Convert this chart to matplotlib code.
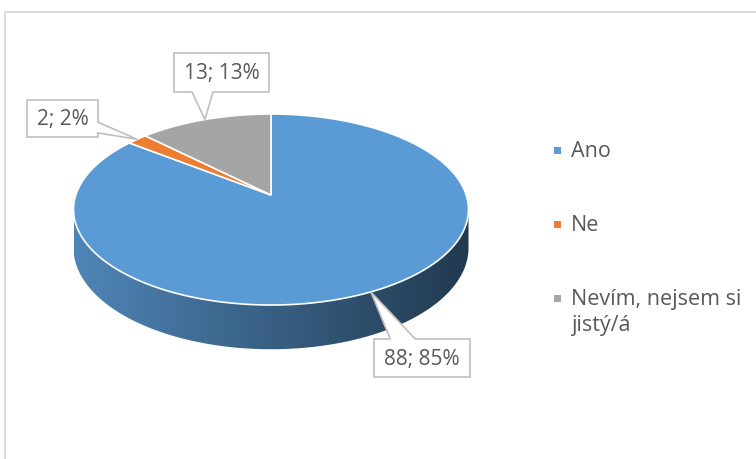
import textwrap
import numpy as np
import matplotlib
matplotlib.use("Agg")
import matplotlib.pyplot as plt
from matplotlib.patches import Polygon, Rectangle

plt.rcParams['font.family'] = ['Open Sans', 'DejaVu Sans']

# data
categories = ['Ano', 'Ne', 'Nevím, nejsem si jistý/á']
values = [88, 2, 13]
colors = ['#5b9bd5', '#ed7d31', '#a5a5a5']

# layout of the 3d pie (pixels)
cx, cy = 271, 195          # projected centre of the top face
A, B = 195.2, 93.3         # half axes before perspective
k = 0.152                  # perspective strength
D = 37.5                   # thickness
text_col = '#595959'

# label boxes (x0, y0, x1, y1), side that the pointer leaves from, pointer base
boxes = [(374, 339, 470, 377), (27, 100, 98, 137), (174, 53, 269, 92)]
box_side = ['top', 'right', 'bottom']
box_base = [(0.17, 0.43), (0.60, 0.89), (0.19, 0.41)]

fig = plt.figure(figsize=(7.56, 4.59), dpi=100)
ax = fig.add_axes([0, 0, 1, 1])
ax.set_xlim(0, 756)
ax.set_ylim(459, 0)
ax.axis('off')


def proj(theta, depth=0.0):
    # theta clockwise from 12 o'clock on the flat disc
    u = np.sin(theta)
    v = -np.cos(theta)
    w = 1 - k * v
    return cx + A * u / w, cy + B * v / w + depth / w


vals = np.array(values, dtype=float)
fr = vals / vals.sum()
edges = np.concatenate([[0], np.cumsum(fr)]) * 2 * np.pi

# side walls (front part only), with a left->right dark gradient
lo = np.arccos(-k)
hi = 2 * np.pi - lo
xleft = cx - A / np.sqrt(1 - k * k)
xright = cx + A / np.sqrt(1 - k * k)
for i in range(len(vals)):
    a, b = max(edges[i], lo), min(edges[i + 1], hi)
    if a >= b:
        continue
    t = np.linspace(a, b, 200)
    tx, ty = proj(t)
    bx, by = proj(t[::-1], D)
    side = Polygon(np.column_stack([np.r_[tx, bx], np.r_[ty, by]]),
                   closed=True, fc='none', ec='none')
    ax.add_patch(side)
    base = np.array(matplotlib.colors.to_rgb(colors[i]))
    f = np.linspace(0.86, 0.37, 300)
    img = (base[None, :] * f[:, None])[None, :, :]
    im = ax.imshow(img, extent=(xleft, xright, 380, 190), aspect='auto',
                   interpolation='bilinear', zorder=1)
    im.set_clip_path(side)

# top face slices
for i in range(len(vals)):
    t = np.linspace(edges[i], edges[i + 1], 200)
    px, py = proj(t)
    pts = np.column_stack([np.r_[cx, px], np.r_[cy, py]])
    ax.add_patch(Polygon(pts, closed=True, fc=colors[i], ec='white',
                         lw=1.2, zorder=2))


def callout(rect, side, f0, f1, tip):
    x0, y0, x1, y1 = rect
    pts = [(x0, y0)]
    if side == 'top':
        pts += [(x0 + f0 * (x1 - x0), y0), tip, (x0 + f1 * (x1 - x0), y0)]
    pts.append((x1, y0))
    if side == 'right':
        pts += [(x1, y0 + f0 * (y1 - y0)), tip, (x1, y0 + f1 * (y1 - y0))]
    pts.append((x1, y1))
    if side == 'bottom':
        pts += [(x0 + f1 * (x1 - x0), y1), tip, (x0 + f0 * (x1 - x0), y1)]
    pts.append((x0, y1))
    return Polygon(pts, closed=True, fc='white', ec='#bfbfbf', lw=1.2,
                   zorder=4, joinstyle='miter')


# data labels
for i in range(len(vals)):
    mid = (edges[i] + edges[i + 1]) / 2
    tip = proj(mid)
    ax.add_patch(callout(boxes[i], box_side[i], *box_base[i], tip))
    x0, y0, x1, y1 = boxes[i]
    lab = f'{values[i]}; {round(fr[i] * 100)}%'
    ax.text((x0 + x1) / 2, (y0 + y1) / 2 + 1, lab, ha='center', va='center',
            fontsize=15, color=text_col, zorder=5)

# legend
for i, name in enumerate(categories):
    y = 150 + 74 * i
    ax.add_patch(Rectangle((554, y - 3.5), 7, 7, fc=colors[i], ec='none'))
    ax.text(571, y - 9, textwrap.fill(name, 16), ha='left', va='top',
            fontsize=15.5, color=text_col, linespacing=1.33)

# chart area border
ax.plot([5, 5, 760], [470, 11.5, 11.5], color='#d9d9d9', lw=1.3,
        solid_joinstyle='miter', clip_on=False)

fig.savefig('out.png', dpi=100)
